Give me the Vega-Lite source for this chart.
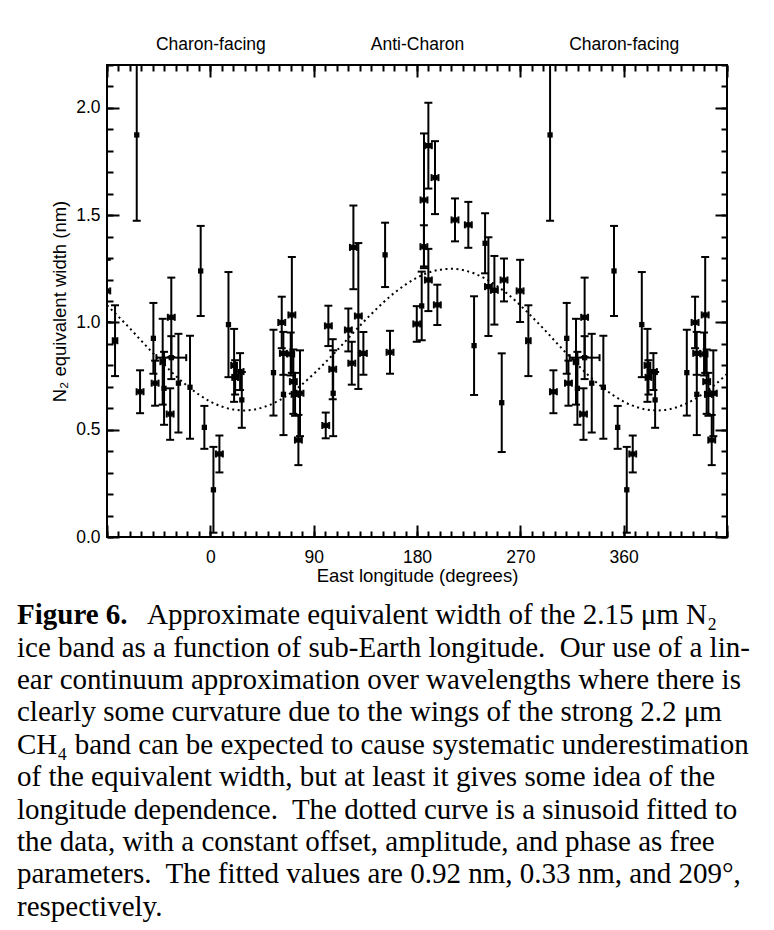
{
  "$schema": "https://vega.github.io/schema/vega-lite/v6.json",
  "background": "white",
  "padding": {"left": 17, "top": 34, "right": 5, "bottom": 5},
  "config": {"view": {"stroke": null}, "font": "Liberation Sans"},
  "datasets": {
    "obs": [
      {"lon": 2.7, "val": 0.22, "lo": 0.02, "hi": 0.42},
      {"lon": 7.9, "val": 0.387, "lo": 0.301, "hi": 0.473, "lonlo": 4.9, "lonhi": 10.9},
      {"lon": 15.8, "val": 0.99, "lo": 0.745, "hi": 1.235},
      {"lon": 20.7, "val": 0.8, "lo": 0.63, "hi": 0.97, "lonlo": 18.2, "lonhi": 23.2},
      {"lon": 21.6, "val": 0.744, "lo": 0.664, "hi": 0.824, "lonlo": 19.1, "lonhi": 24.1},
      {"lon": 25.9, "val": 0.771, "lo": 0.685, "hi": 0.857, "lonlo": 22.9, "lonhi": 28.9},
      {"lon": 27.4, "val": 0.639, "lo": 0.509, "hi": 0.769},
      {"lon": 55, "val": 0.766, "lo": 0.566, "hi": 0.966},
      {"lon": 62.2, "val": 1.0, "lo": 0.88, "hi": 1.12, "lonlo": 59.2, "lonhi": 65.2},
      {"lon": 63.6, "val": 0.856, "lo": 0.756, "hi": 0.956, "lonlo": 60.6, "lonhi": 66.6},
      {"lon": 63.7, "val": 0.665, "lo": 0.475, "hi": 0.855},
      {"lon": 71, "val": 1.035, "lo": 0.765, "hi": 1.305, "lonlo": 68, "lonhi": 74},
      {"lon": 70, "val": 0.853, "lo": 0.753, "hi": 0.953, "lonlo": 67, "lonhi": 73},
      {"lon": 72.3, "val": 0.724, "lo": 0.574, "hi": 0.874, "lonlo": 69.3, "lonhi": 75.3},
      {"lon": 73.8, "val": 0.665, "lo": 0.565, "hi": 0.765, "lonlo": 70.8, "lonhi": 76.8},
      {"lon": 76.7, "val": 0.452, "lo": 0.335, "hi": 0.569, "lonlo": 73.7, "lonhi": 79.7},
      {"lon": 78.1, "val": 0.67, "lo": 0.47, "hi": 0.87, "lonlo": 75.1, "lonhi": 81.1},
      {"lon": 100.5, "val": 0.52, "lo": 0.46, "hi": 0.58, "lonlo": 97.5, "lonhi": 103.5},
      {"lon": 102.8, "val": 0.984, "lo": 0.89, "hi": 1.078, "lonlo": 99.8, "lonhi": 105.8},
      {"lon": 106.6, "val": 0.782, "lo": 0.642, "hi": 0.922, "lonlo": 103.6, "lonhi": 109.6},
      {"lon": 107, "val": 0.67, "lo": 0.47, "hi": 0.87},
      {"lon": 120.2, "val": 0.965, "lo": 0.865, "hi": 1.065, "lonlo": 117.2, "lonhi": 123.2},
      {"lon": 123.2, "val": 0.81, "lo": 0.71, "hi": 0.91, "lonlo": 120.2, "lonhi": 126.2},
      {"lon": 124.6, "val": 1.35, "lo": 1.155, "hi": 1.545, "lonlo": 121.6, "lonhi": 127.6},
      {"lon": 128.9, "val": 1.03, "lo": 0.69, "hi": 1.37, "lonlo": 125.9, "lonhi": 131.9},
      {"lon": 133.3, "val": 0.856, "lo": 0.756, "hi": 0.956, "lonlo": 130.3, "lonhi": 136.3},
      {"lon": 152.2, "val": 1.315, "lo": 1.165, "hi": 1.465},
      {"lon": 156.5, "val": 0.861, "lo": 0.761, "hi": 0.961, "lonlo": 153.5, "lonhi": 159.5},
      {"lon": 179.8, "val": 0.993, "lo": 0.91, "hi": 1.076, "lonlo": 176.8, "lonhi": 182.8},
      {"lon": 184.1, "val": 1.077, "lo": 0.917, "hi": 1.237},
      {"lon": 186.1, "val": 1.571, "lo": 1.261, "hi": 1.881, "lonlo": 183.1, "lonhi": 189.1},
      {"lon": 186, "val": 1.353, "lo": 1.253, "hi": 1.453, "lonlo": 183, "lonhi": 189},
      {"lon": 189.9, "val": 1.824, "lo": 1.624, "hi": 2.024, "lonlo": 186.9, "lonhi": 192.9},
      {"lon": 195.7, "val": 1.675, "lo": 1.505, "hi": 1.845, "lonlo": 192.7, "lonhi": 198.7},
      {"lon": 189.9, "val": 1.198, "lo": 1.053, "hi": 1.343, "lonlo": 186.9, "lonhi": 192.9},
      {"lon": 197.7, "val": 1.082, "lo": 0.988, "hi": 1.176, "lonlo": 194.7, "lonhi": 200.7},
      {"lon": 213.1, "val": 1.478, "lo": 1.378, "hi": 1.578, "lonlo": 210.1, "lonhi": 216.1},
      {"lon": 224.7, "val": 1.455, "lo": 1.348, "hi": 1.562, "lonlo": 221.7, "lonhi": 227.7},
      {"lon": 229.7, "val": 0.892, "lo": 0.662, "hi": 1.122},
      {"lon": 239.3, "val": 1.369, "lo": 1.229, "hi": 1.509},
      {"lon": 242.2, "val": 1.167, "lo": 0.937, "hi": 1.397, "lonlo": 239.2, "lonhi": 245.2},
      {"lon": 247.4, "val": 1.15, "lo": 0.99, "hi": 1.31, "lonlo": 244.4, "lonhi": 250.4},
      {"lon": 253.8, "val": 0.626, "lo": 0.396, "hi": 0.856},
      {"lon": 255.8, "val": 1.198, "lo": 1.098, "hi": 1.298, "lonlo": 252.8, "lonhi": 258.8},
      {"lon": 269.8, "val": 1.147, "lo": 1.002, "hi": 1.292, "lonlo": 266.8, "lonhi": 272.8},
      {"lon": 277, "val": 0.915, "lo": 0.75, "hi": 1.08, "lonlo": 275, "lonhi": 279},
      {"lon": 295.9, "val": 1.874, "lo": 1.474, "hi": 2.274},
      {"lon": 298.8, "val": 0.677, "lo": 0.577, "hi": 0.777, "lonlo": 295.8, "lonhi": 301.8},
      {"lon": 310.4, "val": 0.926, "lo": 0.761, "hi": 1.091},
      {"lon": 311.9, "val": 0.717, "lo": 0.612, "hi": 0.822, "lonlo": 308.9, "lonhi": 314.9},
      {"lon": 318.5, "val": 0.817, "lo": 0.617, "hi": 1.017, "lonlo": 316.5, "lonhi": 320.5},
      {"lon": 319.7, "val": 0.693, "lo": 0.523, "hi": 0.863},
      {"lon": 325, "val": 0.573, "lo": 0.453, "hi": 0.693, "lonlo": 322, "lonhi": 328},
      {"lon": 326, "val": 1.024, "lo": 0.839, "hi": 1.209, "lonlo": 323, "lonhi": 329},
      {"lon": 326, "val": 0.836, "lo": 0.736, "hi": 0.936, "lonlo": 313, "lonhi": 339},
      {"lon": 332.2, "val": 0.717, "lo": 0.487, "hi": 0.947},
      {"lon": 342.3, "val": 0.698, "lo": 0.458, "hi": 0.938},
      {"lon": 351.6, "val": 1.24, "lo": 1.03, "hi": 1.45},
      {"lon": 354.8, "val": 0.511, "lo": 0.411, "hi": 0.611},
      {"lon": -90.2, "val": 1.147, "lo": 1.002, "hi": 1.292, "lonlo": -93.2, "lonhi": -87.2},
      {"lon": -83, "val": 0.915, "lo": 0.75, "hi": 1.08, "lonlo": -85, "lonhi": -81},
      {"lon": -64.1, "val": 1.874, "lo": 1.474, "hi": 2.274},
      {"lon": -61.2, "val": 0.677, "lo": 0.577, "hi": 0.777, "lonlo": -64.2, "lonhi": -58.2},
      {"lon": -49.6, "val": 0.926, "lo": 0.761, "hi": 1.091},
      {"lon": -48.1, "val": 0.717, "lo": 0.612, "hi": 0.822, "lonlo": -51.1, "lonhi": -45.1},
      {"lon": -41.5, "val": 0.817, "lo": 0.617, "hi": 1.017, "lonlo": -43.5, "lonhi": -39.5},
      {"lon": -40.3, "val": 0.693, "lo": 0.523, "hi": 0.863},
      {"lon": -35, "val": 0.573, "lo": 0.453, "hi": 0.693, "lonlo": -38, "lonhi": -32},
      {"lon": -34, "val": 1.024, "lo": 0.839, "hi": 1.209, "lonlo": -37, "lonhi": -31},
      {"lon": -34, "val": 0.836, "lo": 0.736, "hi": 0.936, "lonlo": -47, "lonhi": -21},
      {"lon": -27.8, "val": 0.717, "lo": 0.487, "hi": 0.947},
      {"lon": -17.7, "val": 0.698, "lo": 0.458, "hi": 0.938},
      {"lon": -8.4, "val": 1.24, "lo": 1.03, "hi": 1.45},
      {"lon": -5.2, "val": 0.511, "lo": 0.411, "hi": 0.611},
      {"lon": 362.7, "val": 0.22, "lo": 0.02, "hi": 0.42},
      {"lon": 367.9, "val": 0.387, "lo": 0.301, "hi": 0.473, "lonlo": 364.9, "lonhi": 370.9},
      {"lon": 375.8, "val": 0.99, "lo": 0.745, "hi": 1.235},
      {"lon": 380.7, "val": 0.8, "lo": 0.63, "hi": 0.97, "lonlo": 378.2, "lonhi": 383.2},
      {"lon": 381.6, "val": 0.744, "lo": 0.664, "hi": 0.824, "lonlo": 379.1, "lonhi": 384.1},
      {"lon": 385.9, "val": 0.771, "lo": 0.685, "hi": 0.857, "lonlo": 382.9, "lonhi": 388.9},
      {"lon": 387.4, "val": 0.639, "lo": 0.509, "hi": 0.769},
      {"lon": 415, "val": 0.766, "lo": 0.566, "hi": 0.966},
      {"lon": 422.2, "val": 1.0, "lo": 0.88, "hi": 1.12, "lonlo": 419.2, "lonhi": 425.2},
      {"lon": 423.6, "val": 0.856, "lo": 0.756, "hi": 0.956, "lonlo": 420.6, "lonhi": 426.6},
      {"lon": 423.7, "val": 0.665, "lo": 0.475, "hi": 0.855},
      {"lon": 431, "val": 1.035, "lo": 0.765, "hi": 1.305, "lonlo": 428, "lonhi": 434},
      {"lon": 430, "val": 0.853, "lo": 0.753, "hi": 0.953, "lonlo": 427, "lonhi": 433},
      {"lon": 432.3, "val": 0.724, "lo": 0.574, "hi": 0.874, "lonlo": 429.3, "lonhi": 435.3},
      {"lon": 433.8, "val": 0.665, "lo": 0.565, "hi": 0.765, "lonlo": 430.8, "lonhi": 436.8},
      {"lon": 436.7, "val": 0.452, "lo": 0.335, "hi": 0.569, "lonlo": 433.7, "lonhi": 439.7},
      {"lon": 438.1, "val": 0.67, "lo": 0.47, "hi": 0.87, "lonlo": 435.1, "lonhi": 441.1}
    ],
    "fit": [
      {"lon": -90, "ew": 1.080}, {"lon": -80, "ew": 1.027}, {"lon": -70, "ew": 0.972}, {"lon": -60, "ew": 0.914},
      {"lon": -50, "ew": 0.857}, {"lon": -40, "ew": 0.802}, {"lon": -30, "ew": 0.750}, {"lon": -20, "ew": 0.704},
      {"lon": -10, "ew": 0.664}, {"lon": 0, "ew": 0.631}, {"lon": 10, "ew": 0.608}, {"lon": 20, "ew": 0.594},
      {"lon": 30, "ew": 0.590}, {"lon": 40, "ew": 0.596}, {"lon": 50, "ew": 0.612}, {"lon": 60, "ew": 0.637},
      {"lon": 70, "ew": 0.671}, {"lon": 80, "ew": 0.712}, {"lon": 90, "ew": 0.760}, {"lon": 100, "ew": 0.813},
      {"lon": 110, "ew": 0.868}, {"lon": 120, "ew": 0.926}, {"lon": 130, "ew": 0.983}, {"lon": 140, "ew": 1.038},
      {"lon": 150, "ew": 1.090}, {"lon": 160, "ew": 1.137}, {"lon": 170, "ew": 1.176}, {"lon": 180, "ew": 1.209},
      {"lon": 190, "ew": 1.232}, {"lon": 200, "ew": 1.246}, {"lon": 210, "ew": 1.250}, {"lon": 220, "ew": 1.244},
      {"lon": 230, "ew": 1.228}, {"lon": 240, "ew": 1.203}, {"lon": 250, "ew": 1.169}, {"lon": 260, "ew": 1.128},
      {"lon": 270, "ew": 1.080}, {"lon": 280, "ew": 1.027}, {"lon": 290, "ew": 0.972}, {"lon": 300, "ew": 0.914},
      {"lon": 310, "ew": 0.857}, {"lon": 320, "ew": 0.802}, {"lon": 330, "ew": 0.750}, {"lon": 340, "ew": 0.704},
      {"lon": 350, "ew": 0.664}, {"lon": 360, "ew": 0.631}, {"lon": 370, "ew": 0.608}, {"lon": 380, "ew": 0.594},
      {"lon": 390, "ew": 0.590}, {"lon": 400, "ew": 0.596}, {"lon": 410, "ew": 0.612}, {"lon": 420, "ew": 0.637},
      {"lon": 430, "ew": 0.671}, {"lon": 440, "ew": 0.712}, {"lon": 450, "ew": 0.760}
    ],
    "caption": [
      {"line": 1, "kind": "label", "text": "Figure 6."},
      {"line": 1, "kind": "first", "text": "Approximate equivalent width of the 2.15 μm N₂"},
      {"line": 2, "kind": "body", "text": "ice band as a function of sub-Earth longitude.\u00a0 Our use of a lin-"},
      {"line": 3, "kind": "body", "text": "ear continuum approximation over wavelengths where there is"},
      {"line": 4, "kind": "body", "text": "clearly some curvature due to the wings of the strong 2.2 μm"},
      {"line": 5, "kind": "body", "text": "CH₄ band can be expected to cause systematic underestimation"},
      {"line": 6, "kind": "body", "text": "of the equivalent width, but at least it gives some idea of the"},
      {"line": 7, "kind": "body", "text": "longitude dependence.\u00a0 The dotted curve is a sinusoid fitted to"},
      {"line": 8, "kind": "body", "text": "the data, with a constant offset, amplitude, and phase as free"},
      {"line": 9, "kind": "body", "text": "parameters.\u00a0 The fitted values are 0.92 nm, 0.33 nm, and 209°,"},
      {"line": 10, "kind": "body", "text": "respectively."}
    ]
  },
  "spacing": 13,
  "vconcat": [
    {
      "width": 620,
      "height": 472,
      "view": {"stroke": "black", "strokeWidth": 2},
      "resolve": {"axis": {"x": "independent", "y": "independent"}},
      "layer": [
        {
          "data": {"name": "obs"},
          "mark": {"type": "rule", "color": "black", "strokeWidth": 2, "clip": true},
          "encoding": {
            "x": {"field": "lon", "type": "quantitative",
              "scale": {"domain": [-90, 450], "nice": false, "zero": false},
              "axis": {"orient": "bottom", "values": [-90, 0, 90, 180, 270, 360, 450],
                "labelExpr": "datum.value < 0 || datum.value > 400 ? '' : datum.label",
                "tickSize": -12, "tickWidth": 2, "tickColor": "black", "domain": false, "grid": false,
                "labelPadding": 23, "labelFontSize": 17.5, "labelColor": "black", "labelFont": "Liberation Sans",
                "labelOverlap": false, "labelFlush": false,
                "title": "East longitude (degrees)", "titleFont": "Liberation Sans", "titleFontSize": 18.5,
                "titleFontWeight": "normal", "titleColor": "black", "titlePadding": 1}},
            "y": {"field": "lo", "type": "quantitative",
              "scale": {"domain": [0, 2.2], "nice": false, "zero": false},
              "axis": {"orient": "left", "values": [0, 0.5, 1, 1.5, 2], "format": ".1f",
                "tickSize": -12, "tickWidth": 2, "tickColor": "black", "domain": false, "grid": false,
                "labelPadding": 19, "labelFontSize": 17.5, "labelColor": "black", "labelFont": "Liberation Sans",
                "labelOverlap": false, "labelFlush": false,
                "title": "N₂ equivalent width (nm)", "titleFont": "Liberation Sans", "titleFontSize": 18.5,
                "titleFontWeight": "normal", "titleColor": "black", "titlePadding": 6}},
            "y2": {"field": "hi"}
          }
        },
        {
          "data": {"name": "obs"},
          "transform": [{"fold": ["lo", "hi"], "as": ["end", "yv"]}],
          "mark": {"type": "tick", "orient": "horizontal", "size": 8, "thickness": 2, "color": "black", "opacity": 1, "clip": true},
          "encoding": {
            "x": {"field": "lon", "type": "quantitative",
              "scale": {"domain": [-90, 450], "nice": false, "zero": false},
              "axis": {"orient": "bottom", "values": [-90,-80,-70,-60,-50,-40,-30,-20,-10,0,10,20,30,40,50,60,70,80,90,100,110,120,130,140,150,160,170,180,190,200,210,220,230,240,250,260,270,280,290,300,310,320,330,340,350,360,370,380,390,400,410,420,430,440,450],
                "tickSize": -6, "tickWidth": 2, "tickColor": "black", "domain": false, "grid": false, "labels": false, "title": null}},
            "y": {"field": "yv", "type": "quantitative",
              "scale": {"domain": [0, 2.2], "nice": false, "zero": false},
              "axis": {"orient": "left", "values": [0,0.1,0.2,0.3,0.4,0.5,0.6,0.7,0.8,0.9,1,1.1,1.2,1.3,1.4,1.5,1.6,1.7,1.8,1.9,2,2.1,2.2],
                "tickSize": -6, "tickWidth": 2, "tickColor": "black", "domain": false, "grid": false, "labels": false, "title": null}}
          }
        },
        {
          "data": {"name": "obs"},
          "transform": [{"filter": "isValid(datum.lonlo)"}],
          "mark": {"type": "rule", "color": "black", "strokeWidth": 2, "clip": true},
          "encoding": {
            "x": {"field": "lonlo", "type": "quantitative",
              "scale": {"domain": [-90, 450], "nice": false, "zero": false},
              "axis": {"orient": "top", "values": [-90, 0, 90, 180, 270, 360, 450],
                "labelExpr": "datum.value == 180 ? 'Anti-Charon' : (datum.value == 0 || datum.value == 360) ? 'Charon-facing' : ''",
                "tickSize": -12, "tickWidth": 2, "tickColor": "black", "domain": false, "grid": false,
                "labelPadding": 24, "labelFontSize": 17.5, "labelColor": "black", "labelFont": "Liberation Sans",
                "labelOverlap": false, "labelFlush": false, "title": null}},
            "x2": {"field": "lonhi"},
            "y": {"field": "val", "type": "quantitative",
              "scale": {"domain": [0, 2.2], "nice": false, "zero": false},
              "axis": {"orient": "right", "values": [0, 0.5, 1, 1.5, 2],
                "tickSize": -12, "tickWidth": 2, "tickColor": "black", "domain": false, "grid": false, "labels": false, "title": null}}
          }
        },
        {
          "data": {"name": "obs"},
          "transform": [{"filter": "isValid(datum.lonlo)"}, {"fold": ["lonlo", "lonhi"], "as": ["end", "xv"]}],
          "mark": {"type": "tick", "orient": "vertical", "size": 7, "thickness": 2, "color": "black", "opacity": 1, "clip": true},
          "encoding": {
            "x": {"field": "xv", "type": "quantitative",
              "scale": {"domain": [-90, 450], "nice": false, "zero": false},
              "axis": {"orient": "top", "values": [-90,-80,-70,-60,-50,-40,-30,-20,-10,0,10,20,30,40,50,60,70,80,90,100,110,120,130,140,150,160,170,180,190,200,210,220,230,240,250,260,270,280,290,300,310,320,330,340,350,360,370,380,390,400,410,420,430,440,450],
                "tickSize": -6, "tickWidth": 2, "tickColor": "black", "domain": false, "grid": false, "labels": false, "title": null}},
            "y": {"field": "val", "type": "quantitative",
              "scale": {"domain": [0, 2.2], "nice": false, "zero": false},
              "axis": {"orient": "right", "values": [0,0.1,0.2,0.3,0.4,0.5,0.6,0.7,0.8,0.9,1,1.1,1.2,1.3,1.4,1.5,1.6,1.7,1.8,1.9,2,2.1,2.2],
                "tickSize": -6, "tickWidth": 2, "tickColor": "black", "domain": false, "grid": false, "labels": false, "title": null}}
          }
        },
        {
          "data": {"name": "obs"},
          "mark": {"type": "square", "filled": true, "size": 28, "color": "black", "opacity": 1, "clip": true},
          "encoding": {
            "x": {"field": "lon", "type": "quantitative", "scale": {"domain": [-90, 450], "nice": false, "zero": false}, "axis": null},
            "y": {"field": "val", "type": "quantitative", "scale": {"domain": [0, 2.2], "nice": false, "zero": false}, "axis": null}
          }
        },
        {
          "data": {"name": "fit"},
          "mark": {"type": "line", "color": "black", "strokeWidth": 2, "strokeDash": [2, 3.5], "interpolate": "monotone", "clip": true},
          "encoding": {
            "x": {"field": "lon", "type": "quantitative", "scale": {"domain": [-90, 450], "nice": false, "zero": false}, "axis": null},
            "y": {"field": "ew", "type": "quantitative", "scale": {"domain": [0, 2.2], "nice": false, "zero": false}, "axis": null}
          }
        }
      ]
    },
    {
      "width": 620,
      "height": 324,
      "data": {"name": "caption"},
      "encoding": {
        "y": {"field": "line", "type": "ordinal", "axis": null, "scale": {"type": "point", "padding": 0.5}},
        "text": {"field": "text"}
      },
      "layer": [
        {
          "transform": [{"filter": "datum.kind == 'label'"}],
          "mark": {"type": "text", "align": "left", "baseline": "middle", "font": "Liberation Serif", "fontSize": 29, "fontWeight": "bold", "color": "black", "x": 0, "dx": -90}
        },
        {
          "transform": [{"filter": "datum.kind == 'first'"}],
          "mark": {"type": "text", "align": "left", "baseline": "middle", "font": "Liberation Serif", "fontSize": 29, "color": "black", "x": 0, "dx": 40}
        },
        {
          "transform": [{"filter": "datum.kind == 'body'"}],
          "mark": {"type": "text", "align": "left", "baseline": "middle", "font": "Liberation Serif", "fontSize": 29, "color": "black", "x": 0, "dx": -90}
        }
      ]
    }
  ]
}
